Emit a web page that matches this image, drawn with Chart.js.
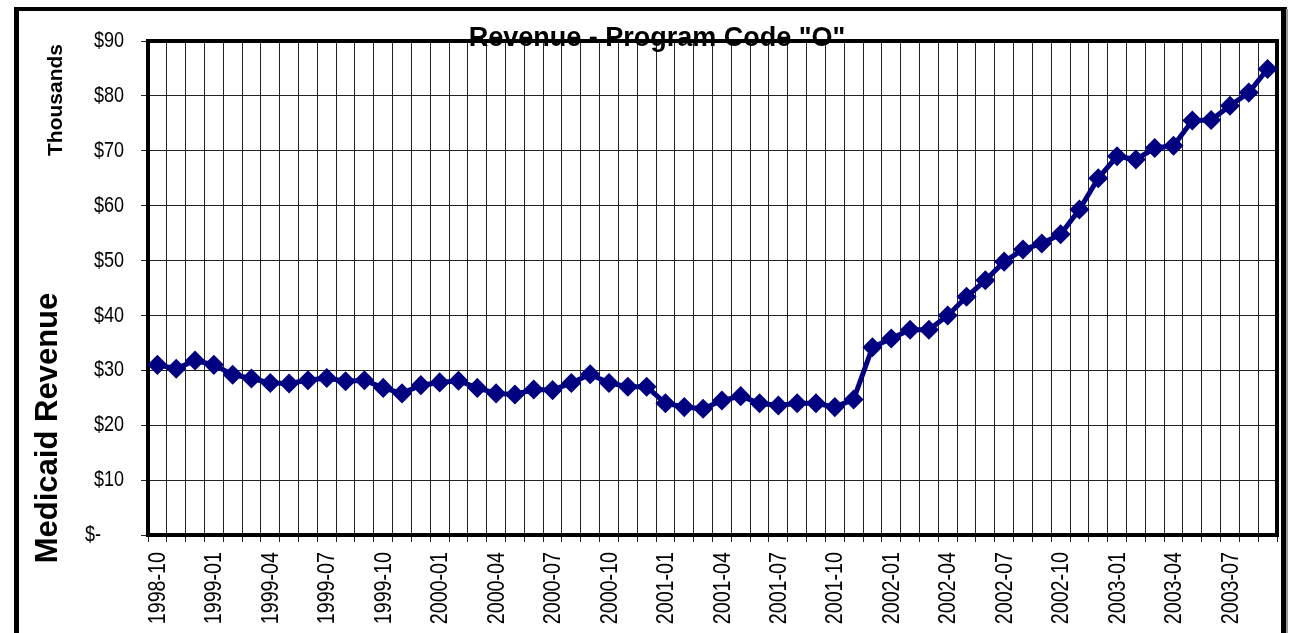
<!DOCTYPE html>
<html>
<head>
<meta charset="utf-8">
<script src="https://cdn.jsdelivr.net/npm/chart.js@4"></script>
<style>
  body { margin: 0; background: #fff; }
</style>
</head>
<body>
<canvas id="revchart" width="1290" height="633"></canvas>
<script>
// months, 1998-10 .. 2003-09
var months = [
  '1998-10','1998-11','1998-12',
  '1999-01','1999-02','1999-03','1999-04','1999-05','1999-06','1999-07','1999-08','1999-09','1999-10','1999-11','1999-12',
  '2000-01','2000-02','2000-03','2000-04','2000-05','2000-06','2000-07','2000-08','2000-09','2000-10','2000-11','2000-12',
  '2001-01','2001-02','2001-03','2001-04','2001-05','2001-06','2001-07','2001-08','2001-09','2001-10','2001-11','2001-12',
  '2002-01','2002-02','2002-03','2002-04','2002-05','2002-06','2002-07','2002-08','2002-09','2002-10','2002-11','2002-12',
  '2003-01','2003-02','2003-03','2003-04','2003-05','2003-06','2003-07','2003-08','2003-09'
];
// revenue in thousands of dollars
var revenue = [
  31.0, 30.3, 31.8, 31.0, 29.2, 28.5, 27.7, 27.6, 28.2, 28.6,
  28.0, 28.2, 26.8, 25.8, 27.3, 27.8, 28.1, 26.8, 25.8, 25.6,
  26.5, 26.4, 27.7, 29.3, 27.7, 27.0, 27.0, 24.0, 23.3, 23.0,
  24.5, 25.3, 24.0, 23.6, 24.0, 24.0, 23.3, 24.7, 34.2, 35.8,
  37.4, 37.4, 40.0, 43.4, 46.4, 49.8, 52.0, 53.1, 54.8, 59.3,
  65.0, 69.0, 68.4, 70.5, 70.9, 75.5, 75.6, 78.2, 80.6, 84.9
];
var yTicks = [0, 10, 20, 30, 40, 50, 60, 70, 80, 90];
var yTickLabels = ['$-', '$10', '$20', '$30', '$40', '$50', '$60', '$70', '$80', '$90'];
var labelEvery = 3;

var titleText = 'Revenue - Program Code "O"';
var yTitle = 'Medicaid Revenue';
var unitText = 'Thousands';

var sans = "'Liberation Sans', Arial, sans-serif";
var squeeze = 0.82; // no Arial Narrow here, so squash Liberation Sans

// frame, plot border, narrow tick labels and the texts outside the axes
var decor = {
  id: 'decor',
  beforeDatasetsDraw: function(chart) {
    var ctx = chart.ctx, a = chart.chartArea;
    ctx.save();
    ctx.strokeStyle = '#000';
    ctx.lineWidth = 4;
    ctx.strokeRect(a.left, a.top, a.right - a.left, a.bottom - a.top);
    ctx.restore();
  },
  afterDraw: function(chart) {
    var ctx = chart.ctx, a = chart.chartArea;
    var xs = chart.scales.x, ys = chart.scales.y;
    ctx.save();
    // outer frame
    ctx.fillStyle = '#000';
    ctx.fillRect(14, 7, 5, 626);
    ctx.fillRect(14, 7, 1273, 4);
    ctx.fillRect(1281, 7, 5, 626);
    ctx.fillStyle = '#999';
    ctx.fillRect(1286, 9, 2, 624);

    ctx.fillStyle = '#000';

    // y tick labels
    ctx.font = '22px ' + sans;
    ctx.textAlign = 'right';
    ctx.textBaseline = 'middle';
    yTicks.forEach(function(v, i) {
      var y = ys.getPixelForValue(v);
      ctx.save();
      ctx.translate(v === 0 ? 101 : 124, y);
      ctx.scale(squeeze, 1);
      ctx.fillText(yTickLabels[i], 0, 0);
      ctx.restore();
    });

    // x tick labels, rotated
    ctx.font = '24px ' + sans;
    months.forEach(function(m, i) {
      if (i % labelEvery !== 0) return;
      var x = xs.getPixelForValue(i);
      ctx.save();
      ctx.translate(x + 1, a.bottom + 17);
      ctx.rotate(-Math.PI / 2);
      ctx.scale(squeeze, 1);
      ctx.fillText(m, 0, 0);
      ctx.restore();
    });

    ctx.textAlign = 'center';
    ctx.font = 'bold 27px ' + sans;
    ctx.fillText(titleText, 657, 39);

    ctx.save();
    ctx.translate(48, 428);
    ctx.rotate(-Math.PI / 2);
    ctx.font = 'bold 31px ' + sans;
    ctx.fillText(yTitle, 0, 0);
    ctx.restore();

    ctx.save();
    ctx.translate(56, 100);
    ctx.rotate(-Math.PI / 2);
    ctx.font = 'bold 21px ' + sans;
    ctx.fillText(unitText, 0, 0);
    ctx.restore();
    ctx.restore();
  }
};

var ctx = document.getElementById('revchart').getContext('2d');
var revChart = new Chart(ctx, {
  type: 'line',
  data: {
    labels: months,
    datasets: [{
      label: 'Revenue',
      data: revenue,
      borderColor: '#000080',
      backgroundColor: '#000080',
      borderWidth: 5,
      pointStyle: 'rectRot',
      pointRadius: 6.5,
      pointBackgroundColor: '#000080',
      pointBorderColor: '#000080',
      tension: 0
    }]
  },
  options: {
    responsive: false,
    animation: false,
    layout: { padding: { left: 0, top: 41, right: 13, bottom: 0 } },
    plugins: {
      legend: { display: false },
      title: { display: false },
      tooltip: { enabled: false }
    },
    scales: {
      x: {
        offset: true,
        grid: { offset: true, color: '#222', lineWidth: 1, tickLength: 7, drawTicks: true },
        border: { display: false },
        ticks: { display: false, autoSkip: false },
        afterFit: function(scale) {
          scale.height = 98;
          scale.paddingLeft = 0;
          scale.paddingRight = 0;
        }
      },
      y: {
        min: yTicks[0],
        max: yTicks[yTicks.length - 1],
        grid: { color: '#222', lineWidth: 1, tickLength: 7 },
        border: { display: false },
        ticks: { display: false, stepSize: 10 },
        afterFit: function(scale) { scale.width = 148; }
      }
    }
  },
  plugins: [decor]
});
</script>
</body>
</html>
